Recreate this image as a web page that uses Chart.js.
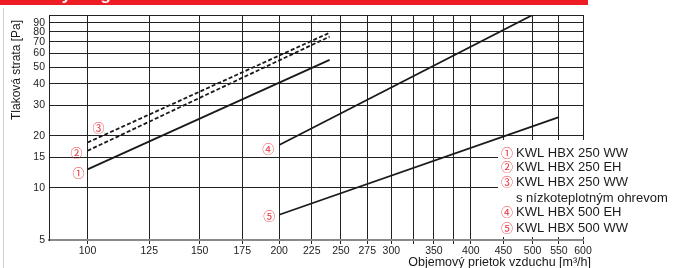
<!DOCTYPE html>
<html>
<head>
<meta charset="utf-8">
<script src="https://cdn.jsdelivr.net/npm/chart.js@4"></script>
<style>
    body { margin: 0; background: #fff; }
    #wrap { position: relative; width: 680px; height: 268px; }
</style>
</head>
<body>
<div id="wrap"><canvas id="chart" width="680" height="268"></canvas></div>
<script>
// hodnoty odčítané z grafu
const xTicks = [100, 125, 150, 175, 200, 225, 250, 275, 300, 325, 350, 375, 400, 450, 500, 550, 600];
const xHidden = [325, 375];
const yTicks = [5, 10, 15, 20, 30, 40, 50, 60, 70, 80, 90, 100];
const yHidden = [100];

const seriesNames = ['KWL HBX 250 WW', 'KWL HBX 250 EH', 'KWL HBX 250 WW', 'KWL HBX 500 EH', 'KWL HBX 500 WW'];
const seriesMarks = ['①', '②', '③', '④', '⑤'];

const flow250 = [100, 240];
const flow500EH = [200, 500];
const flow500WW = [200, 550];

const pressure250WW = [12.8, 55];
const pressure250EH = [16.4, 75];
const pressure250WWlow = [18.3, 79];
const pressure500EH = [17.7, 100];
const pressure500WW = [7.0, 25.7];

const FONT = '"Liberation Sans", Arial, Helvetica, sans-serif';
const MARK_FONT = '"Noto Sans CJK JP", "DejaVu Sans", sans-serif';
const RED = '#e8333c';

function pts(xs, ys) {
    return xs.map((x, i) => ({ x: x, y: ys[i] }));
}

function lineSet(xs, ys, dashed) {
    return {
        data: pts(xs, ys),
        borderColor: '#1a1a1a',
        borderWidth: 1.8,
        borderDash: dashed ? [4, 2.2] : [],
        pointRadius: 0,
        showLine: true,
        fill: false
    };
}

// popisy, legenda a nadpisy
const decorPlugin = {
    id: 'decor',
    afterDraw(chart) {
        const ctx = chart.ctx;
        const xs = chart.scales.x;
        const ys = chart.scales.y;
        ctx.save();

        // cervený pás hore
        ctx.fillStyle = '#ee1c25';
        ctx.fillRect(0, 0, 588, 5);
        ctx.fillStyle = '#fff';
        ctx.font = 'bold 17px ' + FONT;
        ctx.textBaseline = 'alphabetic';
        ctx.textAlign = 'left';
        ctx.fillText('Tlakový diagram', 8, 0);

        // tenká čiara vľavo
        ctx.fillStyle = '#d0d0d0';
        ctx.fillRect(3, 8, 1, 260);

        // čísla pri krivkách
        ctx.fillStyle = RED;
        ctx.font = '12px ' + MARK_FONT;
        ctx.textAlign = 'center';
        ctx.textBaseline = 'middle';
        const starts = [
            [flow250[0], pressure250WW[0], -9, 4],
            [flow250[0], pressure250EH[0], -11, 3],
            [flow250[0], pressure250WWlow[0], 11, -14],
            [flow500EH[0], pressure500EH[0], -11, 4],
            [flow500WW[0], pressure500WW[0], -10, 2]
        ];
        starts.forEach((s, i) => {
            const px = xs.getPixelForValue(s[0]) + s[2];
            const py = ys.getPixelForValue(s[1]) + s[3];
            ctx.fillText(seriesMarks[i], px, py);
        });

        // legenda
        ctx.fillStyle = '#fff';
        ctx.fillRect(498, 140, 182, 97);
        const rows = [
            [seriesMarks[0], seriesNames[0], 153],
            [seriesMarks[1], seriesNames[1], 167],
            [seriesMarks[2], seriesNames[2], 182],
            ['', 's nízkoteplotným ohrevom', 198],
            [seriesMarks[3], seriesNames[3], 212],
            [seriesMarks[4], seriesNames[4], 228]
        ];
        ctx.textBaseline = 'middle';
        rows.forEach(r => {
            if (r[0]) {
                ctx.fillStyle = RED;
                ctx.font = '12px ' + MARK_FONT;
                ctx.textAlign = 'center';
                ctx.fillText(r[0], 507, r[2]);
            }
            ctx.fillStyle = '#1a1a1a';
            ctx.font = '13px ' + FONT;
            ctx.textAlign = 'left';
            ctx.fillText(r[1], 516, r[2]);
        });

        // nadpisy osí
        ctx.fillStyle = '#1a1a1a';
        ctx.font = '12.5px ' + FONT;
        ctx.textAlign = 'right';
        ctx.textBaseline = 'alphabetic';
        ctx.fillText('Objemový prietok vzduchu [m³/h]', 591, 266);

        ctx.translate(17, 70);
        ctx.rotate(-Math.PI / 2);
        ctx.textAlign = 'center';
        ctx.textBaseline = 'middle';
        ctx.font = '12px ' + FONT;
        ctx.fillText('Tlaková strata [Pa]', 0, 0);

        ctx.restore();
    }
};

const ctx = document.getElementById('chart').getContext('2d');
new Chart(ctx, {
    type: 'scatter',
    data: {
        datasets: [
            lineSet(flow250, pressure250WW, false),
            lineSet(flow250, pressure250EH, true),
            lineSet(flow250, pressure250WWlow, true),
            lineSet(flow500EH, pressure500EH, false),
            lineSet(flow500WW, pressure500WW, false)
        ]
    },
    options: {
        responsive: false,
        animation: false,
        devicePixelRatio: 1,
        layout: { padding: { left: 0, right: 97, top: 15, bottom: 0 } },
        plugins: {
            legend: { display: false },
            tooltip: { enabled: false }
        },
        scales: {
            x: {
                type: 'logarithmic',
                min: 87,
                max: 600,
                afterBuildTicks: (scale) => {
                    scale.ticks = xTicks.map(v => ({ value: v }));
                },
                afterFit: (scale) => { scale.height = 28; },
                ticks: {
                    autoSkip: false,
                    maxRotation: 0,
                    padding: 1,
                    color: '#222',
                    font: { family: FONT, size: 10.5 },
                    callback: (value) => xHidden.includes(value) ? '' : String(value)
                },
                grid: {
                    color: '#222',
                    lineWidth: 1,
                    drawTicks: true,
                    tickLength: 4,
                    tickColor: '#222'
                },
                border: { display: true, color: '#8a8a8a', width: 2 }
            },
            y: {
                type: 'logarithmic',
                min: 5,
                max: 100,
                afterBuildTicks: (scale) => {
                    scale.ticks = yTicks.map(v => ({ value: v }));
                },
                afterFit: (scale) => { scale.width = 49; },
                ticks: {
                    autoSkip: false,
                    padding: 4,
                    color: '#222',
                    font: { family: FONT, size: 10.5 },
                    callback: (value) => yHidden.includes(value) ? '' : String(value)
                },
                grid: {
                    color: '#222',
                    lineWidth: 1,
                    drawTicks: false
                },
                border: { display: true, color: '#222', width: 1 }
            }
        }
    },
    plugins: [decorPlugin]
});
</script>
</body>
</html>
